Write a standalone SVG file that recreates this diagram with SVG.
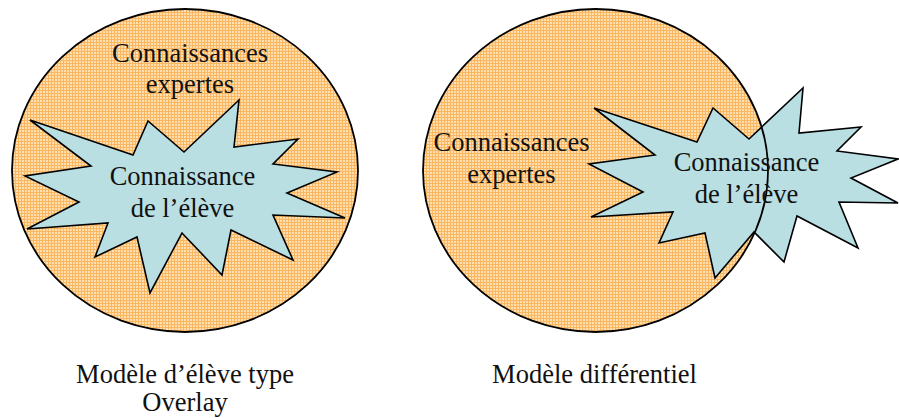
<svg xmlns="http://www.w3.org/2000/svg" width="899" height="418" viewBox="0 0 899 418">
  <style>
    .txt { font-family: "Liberation Serif", "Times New Roman", serif; font-size: 26.5px; fill: #111; text-anchor: middle; }
    .oval { fill: url(#grid); stroke: none; }
    .ovalLine { fill: none; stroke: #000; stroke-width: 1.8; }
    .star { fill: #B9DFE3; stroke: #000; stroke-width: 1.6; stroke-linejoin: miter; }
  </style>
  <defs>
    <pattern id="grid" width="6" height="6" patternUnits="userSpaceOnUse">
      <rect width="6" height="6" fill="#FFDCAA"/>
      <path d="M0.5 0V6M3.5 0V6" stroke="#FBB75F" stroke-width="1"/>
      <path d="M0 0.5H6M0 3.5H6" stroke="#FBB75F" stroke-width="1"/>
      <rect x="1.5" y="1.5" width="1" height="1" fill="#FFF2E0"/>
      <rect x="4.5" y="4.5" width="1" height="1" fill="#FFF2E0"/>
    </pattern>
  </defs>
  <rect width="899" height="418" fill="#FFFFFF"/>

  <g id="overlay-model">
    <ellipse class="oval" cx="185" cy="170.5" rx="173" ry="161.5"/>
    <ellipse class="ovalLine" cx="185" cy="170.5" rx="173" ry="161.5"/>
    <text class="txt" x="190" y="62">Connaissances</text>
    <text class="txt" x="190" y="93">expertes</text>
  </g>
  <g id="overlay-student">
    <polygon class="star" points="30,120 133,155 148,121 184,152 239,100 234,147 298,139 273,164 337,172 287,193 345,218 273,215 293,260 231,230 222,275 182,233 150,293 137,237 95,257 108,223 27,229 79,202 25,176 91,166"/>
    <text class="txt" x="182.5" y="185">Connaissance</text>
    <text class="txt" x="182.5" y="217">de l’élève</text>
  </g>

  <g id="differential-model">
    <ellipse class="oval" cx="595.5" cy="170.5" rx="172.5" ry="161.5"/>
    <text class="txt" x="511.5" y="151">Connaissances</text>
    <text class="txt" x="511.5" y="183">expertes</text>
  </g>
  <g id="differential-student">
    <polygon class="star" points="594,108 697,142 713,108 749,139 803,88 799,133 861,127 837,151 898,159 851,178 898,203 839,202 858,248 797,216 784,262 754,232 715,278 705,233 659,243 673,212 591,217 643,192 589,164 655,155"/>
    <ellipse class="ovalLine" cx="595.5" cy="170.5" rx="172.5" ry="161.5"/>
    <text class="txt" x="746.5" y="171">Connaissance</text>
    <text class="txt" x="746.5" y="203">de l’élève</text>
  </g>

  <g id="connectors"></g>

  <g id="captions">
    <text class="txt" x="185" y="383">Modèle d’élève type</text>
    <text class="txt" x="185" y="411">Overlay</text>
    <text class="txt" x="594.5" y="383">Modèle différentiel</text>
  </g>
</svg>
